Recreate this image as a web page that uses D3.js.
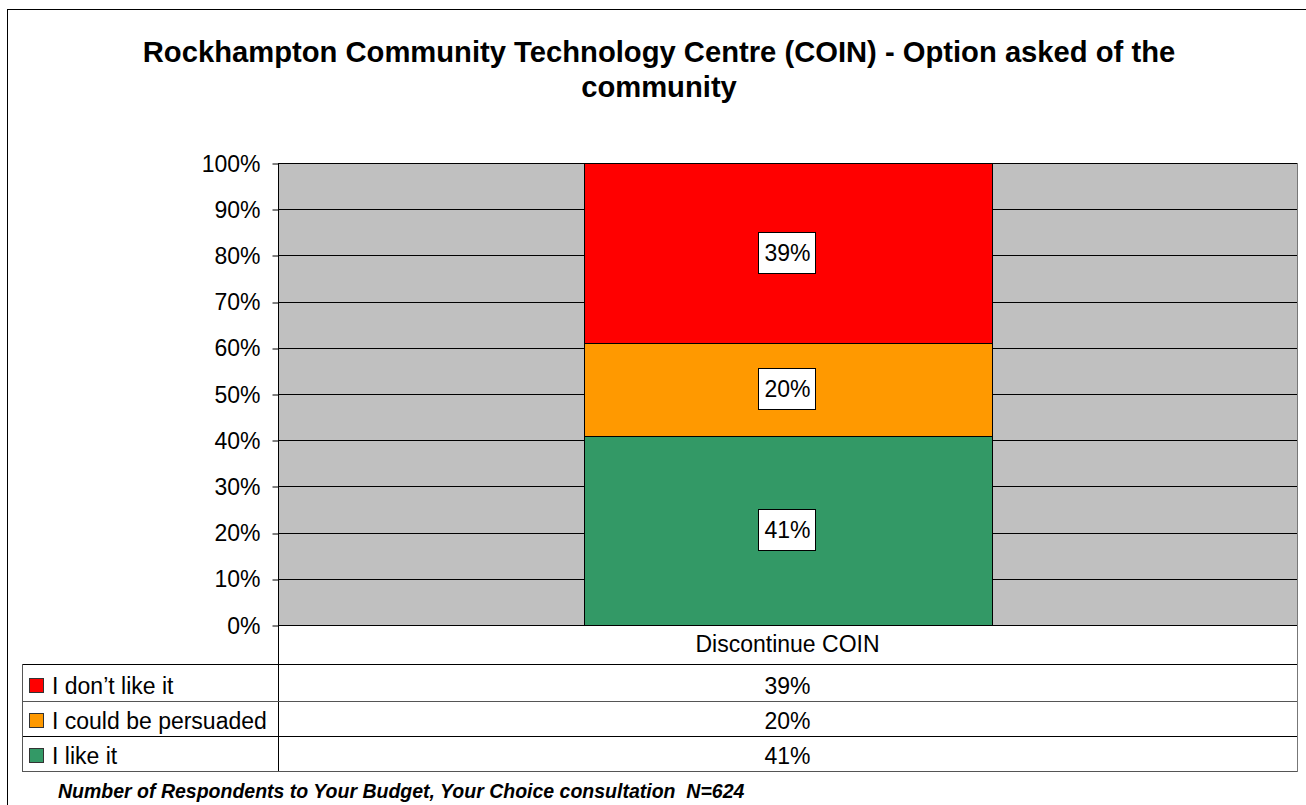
<!DOCTYPE html>
<html>
<head>
<meta charset="utf-8">
<script src="https://cdn.jsdelivr.net/npm/d3@7"></script>
<style>
  html, body { margin: 0; padding: 0; background: #fff; }
  svg text { font-family: Arial, "Liberation Sans", sans-serif; fill: #000; }
</style>
</head>
<body>
<svg id="chart" width="1306" height="805"></svg>
<script>
// ---- data ----
const categories = ["Discontinue COIN"];
const seriesNames = ["I don\u2019t like it", "I could be persuaded", "I like it"]; // table order (top to bottom)
const seriesKeys = ["dontLike", "persuaded", "like"];
const dontLike = [0.39];
const persuaded = [0.20];
const like = [0.41];
const seriesColors = ["#FF0000", "#FF9900", "#339966"];
const yTicks = [0, 0.1, 0.2, 0.3, 0.4, 0.5, 0.6, 0.7, 0.8, 0.9, 1.0];
const titleLines = ["Rockhampton Community Technology Centre (COIN) - Option asked of the", "community"];
const footnote = "Number of Respondents to Your Budget, Your Choice consultation\u00A0 N=624";

const rows = categories.map((c, i) => ({ cat: c, dontLike: dontLike[i], persuaded: persuaded[i], like: like[i] }));

// ---- layout ----
const svg = d3.select("#chart");
const plot = { left: 278, right: 1297, top: 163, bottom: 625 };
const tableRows = [664, 701, 736, 771];
const tableLeft = 22;
const fontSize = 23;

svg.append("rect").attr("width", 1306).attr("height", 805).attr("fill", "#fff");
// outer frame (extends off canvas right/bottom)
svg.append("rect").attr("x", 7.5).attr("y", 9.5).attr("width", 1320).attr("height", 820)
  .attr("fill", "none").attr("stroke", "#000").attr("stroke-width", 1);

// title
const title = svg.append("text").attr("text-anchor", "middle")
  .attr("font-size", 29.2).attr("font-weight", "bold");
titleLines.forEach((t, i) => {
  title.append("tspan").attr("x", 659).attr("y", 62 + i * 35).text(t);
});

const x = d3.scaleBand().domain(categories).range([plot.left, plot.right])
  .paddingInner(0.6).paddingOuter(0.3);
const y = d3.scaleLinear().domain([0, 1]).range([plot.bottom, plot.top]);

// plot background
svg.append("rect").attr("x", plot.left).attr("y", plot.top)
  .attr("width", plot.right - plot.left).attr("height", plot.bottom - plot.top)
  .attr("fill", "#C0C0C0");

// gridlines
svg.append("g").selectAll("line").data(yTicks).join("line")
  .attr("x1", plot.left).attr("x2", plot.right)
  .attr("y1", d => Math.round(y(d)) + 0.5).attr("y2", d => Math.round(y(d)) + 0.5)
  .attr("stroke", "#000").attr("stroke-width", 1);

// stacked bars
const stackOrder = ["like", "persuaded", "dontLike"];
const stack = d3.stack().keys(stackOrder)(rows);
const colorOf = k => seriesColors[seriesKeys.indexOf(k)];
const gBars = svg.append("g");
stack.forEach(layer => {
  gBars.selectAll(null).data(layer).join("rect")
    .attr("x", d => Math.round(x(d.data.cat)) + 0.5)
    .attr("width", Math.round(x.bandwidth()))
    .attr("y", d => Math.round(y(d[1])) + 0.5)
    .attr("height", d => Math.round(y(d[0])) - Math.round(y(d[1])))
    .attr("fill", colorOf(layer.key))
    .attr("stroke", "#000").attr("stroke-width", 1);
});

// data labels
const fmt = d3.format(".0%");
stack.forEach(layer => {
  layer.forEach(d => {
    const cx = x(d.data.cat) + x.bandwidth() / 2;
    const cy = y((d[0] + d[1]) / 2);
    const g = svg.append("g");
    const t = g.append("text").attr("x", cx).attr("y", cy + 8)
      .attr("text-anchor", "middle").attr("font-size", fontSize).text(fmt(d[1] - d[0]));
    const bb = t.node().getBBox();
    g.insert("rect", "text")
      .attr("x", Math.round(cx - bb.width / 2 - 6) + 0.5)
      .attr("y", Math.round(cy - 21) + 0.5)
      .attr("width", Math.round(bb.width + 11))
      .attr("height", 41)
      .attr("fill", "#fff").attr("stroke", "#000").attr("stroke-width", 1);
  });
});

// y axis
const yAxis = d3.axisLeft(y).tickValues(yTicks).tickFormat(fmt).tickSize(6).tickPadding(12);
const gy = svg.append("g").attr("transform", `translate(${plot.left + 0.5},0)`).call(yAxis);
gy.select(".domain").remove();
gy.selectAll(".tick line").attr("stroke", "#000")
  .attr("transform", d => `translate(0,${Math.round(y(d)) + 0.5 - y(d)})`);
gy.selectAll(".tick text").attr("font-size", fontSize).attr("font-family", "Arial, 'Liberation Sans', sans-serif")
  .attr("fill", "#000").attr("dy", "0.35em");

// axis line (continues through table)
svg.append("line").attr("x1", plot.left + 0.5).attr("x2", plot.left + 0.5)
  .attr("y1", plot.top).attr("y2", tableRows[3] + 1).attr("stroke", "#000");

// data table
const gt = svg.append("g");
gt.append("line").attr("x1", plot.left).attr("x2", plot.right)
  .attr("y1", plot.bottom + 0.5).attr("y2", plot.bottom + 0.5).attr("stroke", "#000");
tableRows.forEach((ry, i) => {
  gt.append("line").attr("x1", tableLeft).attr("x2", plot.right)
    .attr("y1", ry + 0.5).attr("y2", ry + 0.5)
    .attr("stroke", i % 2 === 0 ? "#000" : "#555");
});
gt.append("line").attr("x1", tableLeft + 0.5).attr("x2", tableLeft + 0.5)
  .attr("y1", tableRows[0]).attr("y2", tableRows[3] + 1).attr("stroke", "#555");
gt.append("line").attr("x1", plot.right + 0.5).attr("x2", plot.right + 0.5)
  .attr("y1", plot.top).attr("y2", tableRows[3] + 1).attr("stroke", "#777");

// category header
gt.selectAll(null).data(categories).join("text")
  .attr("x", d => x(d) + x.bandwidth() / 2).attr("y", 652)
  .attr("text-anchor", "middle").attr("font-size", fontSize).text(d => d);

// series rows
const seriesValues = [dontLike, persuaded, like];
seriesNames.forEach((name, i) => {
  const bot = tableRows[i + 1];
  const base = bot - 7;
  gt.append("rect").attr("x", 29.5).attr("y", bot - 22.5).attr("width", 14).attr("height", 14)
    .attr("fill", seriesColors[i]).attr("stroke", "#333").attr("stroke-width", 1);
  gt.append("text").attr("x", 52).attr("y", base).attr("font-size", fontSize).text(name);
  categories.forEach((c, j) => {
    gt.append("text").attr("x", x(c) + x.bandwidth() / 2).attr("y", base)
      .attr("text-anchor", "middle").attr("font-size", fontSize).text(fmt(seriesValues[i][j]));
  });
});

// footnote
svg.append("text").attr("x", 58).attr("y", 798)
  .attr("font-size", 19.5).attr("font-weight", "bold").attr("font-style", "italic")
  .text(footnote);
</script>
</body>
</html>
